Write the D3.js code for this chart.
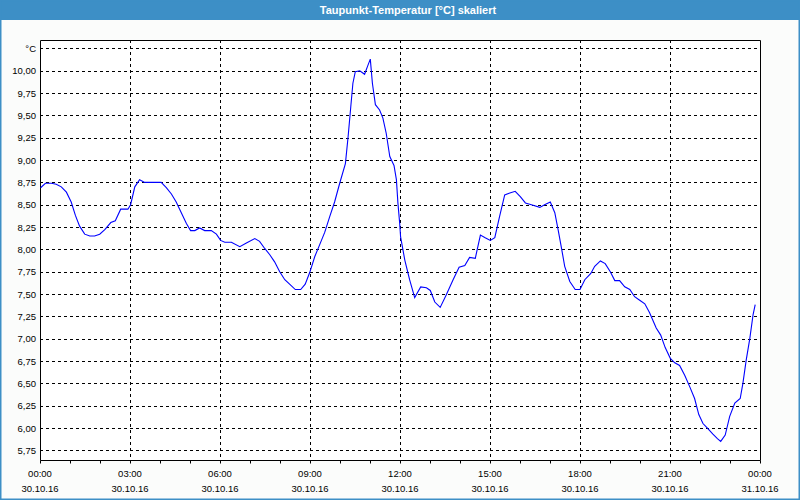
<!DOCTYPE html>
<html>
<head>
<meta charset="utf-8">
<script src="https://cdn.jsdelivr.net/npm/d3@7/dist/d3.min.js"></script>
<style>
html,body{margin:0;padding:0;background:#fbfcfb;}
svg{display:block;}
text{font-family:"Liberation Sans",Arial,sans-serif;}
</style>
</head>
<body>
<svg id="chart" width="800" height="500"></svg>
<script>
const title = "Taupunkt-Temperatur [°C] skaliert";
const unitLabel = "°C";
// time in hours since 30.10.16 00:00
const hours = [0.02,0.18,0.38,0.54,0.71,0.88,1.04,1.18,1.32,1.49,1.66,1.82,1.99,2.16,2.36,2.51,2.69,2.93,3.02,3.16,3.32,3.49,3.71,4.04,4.21,4.38,4.54,4.71,4.88,5.02,5.16,5.32,5.49,5.71,5.88,
6.02,6.16,6.38,6.66,6.88,7.16,7.32,7.49,7.66,7.82,7.99,8.16,8.32,8.51,8.69,8.84,8.99,9.16,9.32,9.49,9.66,9.82,9.99,10.18,10.27,10.36,10.43,10.51,10.66,10.82,10.93,11.01,11.08,11.18,11.32,11.43,11.54,11.66,11.80,11.88,11.93,11.99,
12.02,12.16,12.32,12.49,12.69,12.88,13.01,13.16,13.34,13.54,13.77,13.97,14.16,14.32,14.51,14.68,14.84,15.01,15.16,15.32,15.49,15.66,15.84,16.01,16.18,16.38,16.66,16.82,17.01,17.16,17.27,17.38,17.49,17.66,17.84,
18.0,18.16,18.36,18.49,18.68,18.84,19.01,19.16,19.32,19.49,19.66,19.82,19.99,20.16,20.32,20.54,20.69,20.84,21.01,21.16,21.32,21.49,21.66,21.82,21.96,22.10,22.27,22.43,22.58,22.69,22.84,22.99,23.16,23.34,23.43,23.54,23.66,23.77,23.84];
const dewpoint = [8.69,8.74,8.74,8.73,8.70,8.64,8.53,8.38,8.26,8.17,8.15,8.15,8.17,8.22,8.30,8.32,8.45,8.45,8.50,8.70,8.78,8.75,8.75,8.75,8.69,8.62,8.53,8.41,8.29,8.21,8.21,8.24,8.21,8.21,8.17,
8.10,8.08,8.08,8.03,8.07,8.12,8.09,8.01,7.94,7.86,7.75,7.66,7.61,7.55,7.55,7.61,7.74,7.92,8.05,8.19,8.37,8.53,8.74,8.96,9.26,9.60,9.86,9.99,10.00,9.96,10.06,10.13,9.86,9.62,9.56,9.47,9.30,9.04,8.94,8.78,8.52,8.29,
8.14,7.88,7.66,7.46,7.58,7.57,7.54,7.41,7.35,7.49,7.66,7.80,7.82,7.91,7.90,8.16,8.13,8.10,8.13,8.37,8.61,8.63,8.65,8.59,8.52,8.50,8.47,8.50,8.53,8.41,8.22,8.02,7.81,7.64,7.55,
7.55,7.66,7.73,7.81,7.87,7.84,7.75,7.65,7.65,7.58,7.55,7.47,7.43,7.39,7.29,7.12,7.04,6.90,6.78,6.73,6.70,6.59,6.46,6.33,6.15,6.05,5.99,5.93,5.88,5.85,5.92,6.13,6.28,6.33,6.50,6.76,7.00,7.27,7.38];
const yTickValues = [5.75,6.00,6.25,6.50,6.75,7.00,7.25,7.50,7.75,8.00,8.25,8.50,8.75,9.00,9.25,9.50,9.75,10.00,10.25];
const yTickLabels = ["5,75","6,00","6,25","6,50","6,75","7,00","7,25","7,50","7,75","8,00","8,25","8,50","8,75","9,00","9,25","9,50","9,75","10,00","°C"];
const xMajorHours = [0,3,6,9,12,15,18,21,24];
const xTimeLabels = ["00:00","03:00","06:00","09:00","12:00","15:00","18:00","21:00","00:00"];
const xDateLabels = ["30.10.16","30.10.16","30.10.16","30.10.16","30.10.16","30.10.16","30.10.16","30.10.16","31.10.16"];
const xMinorHours = d3.range(0,25,1);

const svg = d3.select("#chart");
const W = 800, H = 500;
const L = 40, R = 760, T = 40, B = 460;
const blue = "#3d8fc6";

// window frame + title bar
svg.append("rect").attr("x",0).attr("y",0).attr("width",W).attr("height",H).attr("fill","#fbfcfb");
svg.append("rect").attr("x",0).attr("y",0).attr("width",W).attr("height",20).attr("fill",blue);
svg.append("rect").attr("x",0.75).attr("y",0.75).attr("width",W-1.5).attr("height",H-1.5)
  .attr("fill","none").attr("stroke",blue).attr("stroke-width",1.5);
svg.append("text").attr("x",408).attr("y",14).attr("text-anchor","middle")
  .attr("fill","#ffffff").attr("font-size","11px").attr("font-weight","bold").text(title);

// plot background
svg.append("rect").attr("x",L).attr("y",T).attr("width",R-L).attr("height",B-T).attr("fill","#ffffff");

const x = d3.scaleLinear().domain([0,24]).range([L,R]);
const y = d3.scaleLinear().domain([5.75,10.25]).range([450.3,48.4]);

// horizontal grid
const yAxis = d3.axisLeft(y).tickValues(yTickValues).tickSize(0).tickPadding(4)
  .tickFormat((d,i)=>yTickLabels[i]);
const gy = svg.append("g").attr("transform",`translate(${L},0)`).call(yAxis);
gy.select(".domain").remove();
gy.selectAll("text").attr("font-size","9.5px").attr("fill","#000");
svg.append("g").selectAll("line").data(yTickValues).join("line")
  .attr("x1",L).attr("x2",R)
  .attr("y1",d=>Math.round(y(d))+0.5).attr("y2",d=>Math.round(y(d))+0.5)
  .attr("stroke","#000").attr("stroke-dasharray","3,3").attr("stroke-width",1);

// vertical grid
svg.append("g").selectAll("line").data(xMajorHours.slice(1,-1)).join("line")
  .attr("x1",d=>Math.round(x(d))+0.5).attr("x2",d=>Math.round(x(d))+0.5)
  .attr("y1",T).attr("y2",B)
  .attr("stroke","#000").attr("stroke-dasharray","3,3").attr("stroke-width",1);

// x axis: hourly ticks
const xAxis = d3.axisBottom(x).tickValues(xMinorHours).tickSize(3).tickFormat("");
const gx = svg.append("g").attr("transform",`translate(0,${B+0.5})`).call(xAxis);
gx.select(".domain").remove();
gx.selectAll("line").attr("stroke","#000");

const lbl = svg.append("g").selectAll("g").data(xMajorHours).join("g")
  .attr("transform",d=>`translate(${x(d)},0)`);
lbl.append("text").attr("y",476.5).attr("text-anchor","middle").attr("font-size","9.5px")
  .text((d,i)=>xTimeLabels[i]);
lbl.append("text").attr("y",492).attr("text-anchor","middle").attr("font-size","9.5px")
  .text((d,i)=>xDateLabels[i]);

// frame of plot
svg.append("path").attr("d",`M${L+0.5},${B+0.5}V${T+0.5}H${R+0.5}V${B+0.5}H${L+0.5}`)
  .attr("fill","none").attr("stroke","#000").attr("stroke-width",1);

// data line
const line = d3.line().x((d,i)=>x(hours[i])).y(d=>y(d));
svg.append("path").datum(dewpoint).attr("d",line)
  .attr("fill","none").attr("stroke","#0000ff").attr("stroke-width",1.1);
</script>
</body>
</html>
